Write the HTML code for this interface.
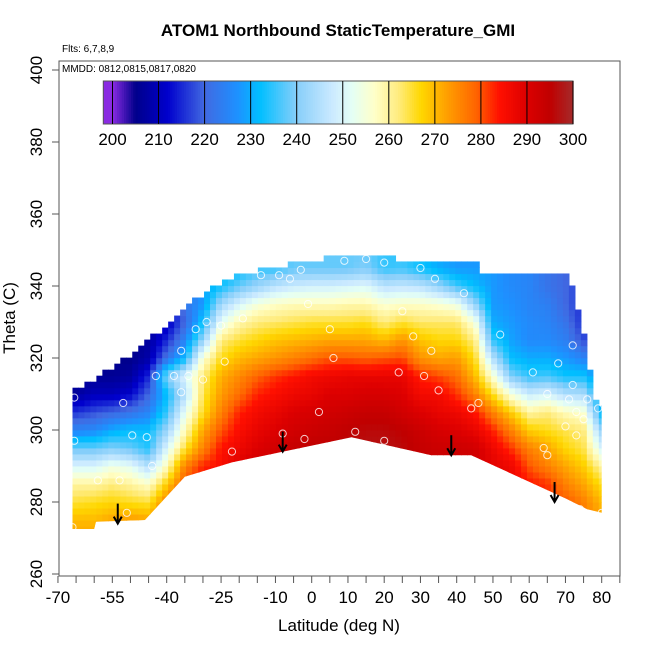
<!DOCTYPE html>
<html><head><meta charset="utf-8">
<style>
body{margin:0;background:#fff;}
svg{display:block;font-family:"Liberation Sans",Arial,sans-serif;}
</style></head>
<body>
<svg id="chart" width="650" height="650" viewBox="0 0 650 650" xmlns="http://www.w3.org/2000/svg">
<defs><clipPath id="bclip"><polygon id="bpoly" points=""/></clipPath></defs>
<text x="338" y="36" font-size="17" font-weight="bold" text-anchor="middle">ATOM1 Northbound StaticTemperature_GMI</text>
<text x="62" y="52" font-size="10">Flts: 6,7,8,9</text>
<g id="heat" clip-path="url(#bclip)"></g>
<g id="pts"></g>
<g id="arrows"></g>
<rect x="59" y="61" width="561" height="515" fill="none" stroke="#555" stroke-width="1"/>
<text x="62" y="72" font-size="10">MMDD: 0812,0815,0817,0820</text>
<g id="cbar"></g>
<g id="xaxis"></g>
<g id="yaxis"></g>
<text x="339" y="631" font-size="17" text-anchor="middle">Latitude (deg N)</text>
<text transform="translate(15,318) rotate(-90)" font-size="17" text-anchor="middle">Theta (C)</text>
</svg>
<script>
const lats=[-70,-65,-60,-55,-50,-45,-40,-35,-30,-25,-20,-15,-10,-5,0,5,10,15,20,25,30,35,40,45,50,55,60,65,70,75,80];
const thetas=[270,275,280,285,290,295,300,305,310,315,320,325,330,335,340,345,350];
const temps=[
[272,270,264,260,250,238,225,215,205,204,204,204,204,204,204,204,204],
[272,270,265,260,250,238,225,216,207,205,205,205,205,205,205,205,205],
[272,270,266,260,250,238,226,218,210,206,205,205,205,205,205,205,205],
[273,272,267,262,254,240,230,220,210,206,205,205,205,205,205,205,205],
[274,273,266,260,252,238,232,222,212,207,205,205,205,205,205,205,205],
[276,272,265,257,245,234,232,225,220,215,208,207,207,207,207,207,207],
[278,277,276,268,258,250,242,235,232,240,222,215,210,210,210,210,210],
[282,282,282,280,276,265,258,252,245,250,232,225,220,222,222,222,222],
[284,284,284,284,283,276,272,266,264,262,256,242,233,228,228,228,228],
[286,286,286,286,285,284,280,276,273,271,266,262,252,243,233,230,230],
[290,290,290,290,290,287,285,283,278,275,270,265,259,250,238,232,232],
[292,292,292,292,292,290,288,286,283,279,272,267,262,255,242,235,235],
[293,293,293,293,293,292,290,288,285,282,274,269,263,257,246,235,235],
[295,295,295,295,295,294,292,290,287,284,276,270,264,258,248,238,238],
[296,296,296,296,296,295,293,291,288,286,278,271,265,258,249,238,238],
[296,296,296,296,296,295,294,292,290,287,280,272,265,258,249,238,238],
[297,297,297,297,297,296,295,293,290,288,280,272,265,259,250,238,238],
[297,297,297,297,297,297,296,294,291,288,279,272,266,259,251,240,238],
[297,297,297,297,297,297,296,294,291,288,280,270,262,256,246,235,235],
[296,296,296,296,296,296,295,292,290,288,281,274,265,257,247,236,235],
[294,294,294,294,294,294,293,290,286,283,274,269,263,257,246,233,232],
[293,293,293,293,293,293,291,288,286,281,272,267,263,256,242,230,230],
[293,293,293,293,293,293,290,287,282,278,273,267,263,254,236,228,228],
[292,292,292,292,292,292,288,284,276,270,266,262,255,242,232,228,228],
[289,289,289,289,289,287,283,276,266,256,245,235,230,228,228,228,228],
[287,287,287,287,287,282,276,268,255,240,232,229,228,227,226,226,226],
[284,284,284,284,280,276,268,260,248,235,230,226,226,225,225,225,225],
[282,282,282,282,276,272,266,262,250,236,230,226,225,224,222,222,222],
[280,280,280,276,272,267,264,258,245,233,228,224,222,220,220,220,220],
[276,276,276,272,268,264,262,256,244,233,225,218,215,215,215,215,215],
[272,272,270,266,260,250,242,232,228,225,222,218,215,215,215,215,215]];
const bottomLat=[-66,-60,-59.5,-46,-35,-22,11,33,44,70,76,80];
const bottomTheta=[272.5,272.5,274.5,275,287,291,298,293,293,281,278,277];
const topLat=[-66,-59,-50,-42,-34,-27,-20,-14,-3,8,22,23,46,47,71,72,73,74.5,76,77,78,79,80];
const topTheta=[310.5,314.6,320.7,327.6,335.4,339.6,343,344.6,346.5,348.4,348.4,346.5,346.5,344.3,344.3,339.6,335.4,330,320,314.6,310,306,306];
const ptLat=[-65.5,-65.5,-52,-49.5,-45.5,-43,-38,-34,-36,-32,-29,-25,-19,-24,-14,-9,-6,-3,-1,5,6,2,-2,-8,-14,-22,-30,-36,-53,-59,-44,-42,-51,-66,9,15,20,30,34,42,25,28,33,24,31,35,44,52,46,61,68,72,72,65,71,73,76,79,75,70,65,64,73,71,74,80,-18,12,20];
const ptTheta=[309,297,307.5,298.5,298,315,315,315,310.5,328,330,329,331,319,343,343,342,344.5,335,328,320,305,297.5,299,291,294,314,322,286,286,290,277,277,273,347,347.5,346.5,345,342,338,333,326,322,316,315,311,306,326.5,307.5,316,318.5,323.5,312.5,310,308.5,305,308.5,306,303,301,293,295,298.5,278,278,277,286,299.5,297];
const arrowLat=[-53.5,-8,38.5,67];
const arrowTheta=[274,294,293,280];

const X=l=>311.7+3.625*l, Y=t=>70+(400-t)*3.6;
const NS="http://www.w3.org/2000/svg";
function mk(tag,attrs,parent){const e=document.createElementNS(NS,tag);for(const k in attrs)e.setAttribute(k,attrs[k]);parent.appendChild(e);return e;}
const stops=[[200,[138,43,226]],[205,[0,0,139]],[212,[0,0,205]],[220,[65,105,225]],[227,[30,144,255]],[232,[0,191,255]],[240,[135,206,250]],[248,[205,235,255]],[252,[228,255,245]],[257,[255,255,200]],[262,[255,236,128]],[267,[255,215,0]],[272,[255,165,0]],[279,[255,100,0]],[284,[255,16,0]],[290,[220,0,0]],[295,[192,0,0]],[300,[165,42,42]]];
function col(v){v=Math.max(200,Math.min(300,v));for(let i=1;i<stops.length;i++){if(v<=stops[i][0]){const a=stops[i-1],b=stops[i],f=(v-a[0])/(b[0]-a[0]);return 'rgb('+a[1].map((c,j)=>Math.round(c+(b[1][j]-c)*f)).join(',')+')';}}return 'rgb(165,42,42)';}
function interp(xs,ys,x){if(x<=xs[0])return ys[0];for(let i=1;i<xs.length;i++)if(x<=xs[i]){const f=(x-xs[i-1])/(xs[i]-xs[i-1]);return ys[i-1]+(ys[i]-ys[i-1])*f;}return ys[ys.length-1];}
function field(l,t){let i=(l-lats[0])/5,j=(t-thetas[0])/5;i=Math.max(0,Math.min(lats.length-1.001,i));j=Math.max(0,Math.min(thetas.length-1.001,j));const i0=Math.floor(i),j0=Math.floor(j),fi=i-i0,fj=j-j0;
return temps[i0][j0]*(1-fi)*(1-fj)+temps[i0+1][j0]*fi*(1-fj)+temps[i0][j0+1]*(1-fi)*fj+temps[i0+1][j0+1]*fi*fj;}
let pp=bottomLat.map((l,i)=>X(l)+','+Y(bottomTheta[i]));
pp.push(X(80)+','+Y(400));pp.push(X(-66)+','+Y(400));
document.getElementById('bpoly').setAttribute('points',pp.join(' '));
const heat=document.getElementById('heat');
const dl=1.65,dt=1.67;
for(let l=-66;l<80;l+=dl){const lc=l+dl/2;const top=interp(topLat,topTheta,lc),bot=interp(bottomLat,bottomTheta,lc)-2;
 for(let t=270;t<350;t+=dt){const tc=t+dt/2;if(tc>top||t+dt<bot)continue;
  const r=mk('rect',{x:X(l).toFixed(2),y:Y(t+dt).toFixed(2),width:(dl*3.625+0.6).toFixed(2),height:(dt*3.6+0.6).toFixed(2),fill:col(field(lc,tc))},heat);
  
  }}
const pts=document.getElementById('pts');
ptLat.forEach((l,i)=>{const c=mk('circle',{cx:X(l),cy:Y(ptTheta[i]),r:3.6,fill:'none',stroke:'#fff','stroke-width':1,opacity:0.8},pts);
 
 });
const ar=document.getElementById('arrows');
arrowLat.forEach((l,i)=>{const x=X(l),y=Y(arrowTheta[i]);const g=mk('g',{stroke:'#000','stroke-width':2,fill:'none'},ar);
 
 
 mk('line',{x1:x,y1:y-20,x2:x,y2:y},g);mk('polyline',{points:(x-4)+','+(y-7)+' '+x+','+y+' '+(x+4)+','+(y-7)},g);});
const cb=document.getElementById('cbar');const CX=v=>112.5+(v-200)*4.605;
for(let v=198;v<300;v+=0.5){const r=mk('rect',{x:CX(v).toFixed(2),y:81,width:2.9,height:43,fill:col(v+0.25)},cb);
 
 }
mk('rect',{x:CX(198),y:81,width:CX(300)-CX(198),height:43,fill:'none',stroke:'#555'},cb);
for(let v=200;v<=300;v+=10){mk('line',{x1:CX(v),y1:81,x2:CX(v),y2:124,stroke:'#000','stroke-width':1},cb);
 const t=mk('text',{x:CX(v),y:145,'font-size':17,'text-anchor':'middle'},cb);t.textContent=v;
 
 }
const xa=document.getElementById('xaxis');const xlab=[-70,-55,-40,-25,-10,0,10,20,30,40,50,60,70,80];
for(let v=-70;v<=85;v+=5)mk('line',{x1:X(v),y1:576,x2:X(v),y2:583,stroke:'#555'},xa);
xlab.forEach(v=>{const t=mk('text',{x:X(v),y:603,'font-size':17,'text-anchor':'middle'},xa);t.textContent=v;
 
 });
const ya=document.getElementById('yaxis');
for(let v=260;v<=400;v+=20){mk('line',{x1:52,y1:Y(v),x2:59,y2:Y(v),stroke:'#555'},ya);
 const t=mk('text',{transform:'translate(42,'+Y(v)+') rotate(-90)','font-size':17,'text-anchor':'middle'},ya);t.textContent=v;
 
 }
</script>
</body></html>
